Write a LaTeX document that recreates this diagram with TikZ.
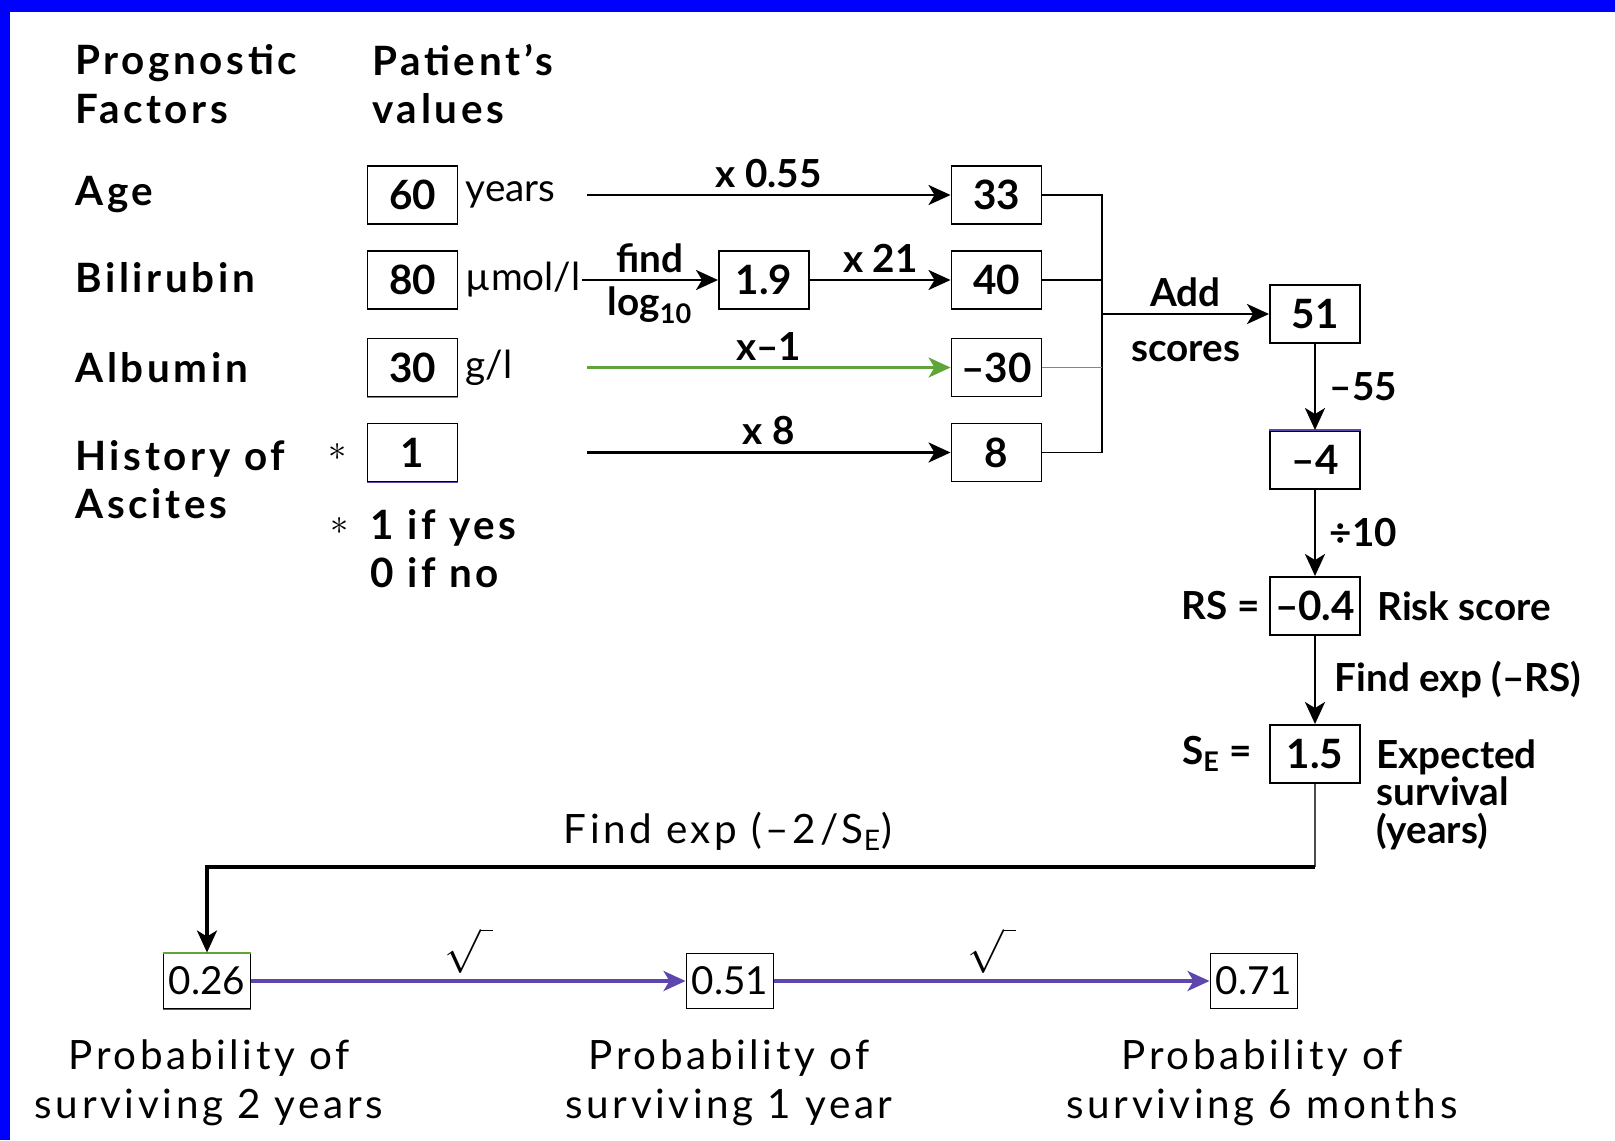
\documentclass[tikz,border=0pt]{standalone}
\usepackage{fontspec}
\setmainfont{Lato}
\newfontfamily\trackfont[LetterSpace=9]{Lato}
\usepackage{tikz}
\usetikzlibrary{arrows.meta, positioning}

\definecolor{frameblue}{RGB}{0,0,255}
\definecolor{albgreen}{RGB}{95,165,55}
\definecolor{probviolet}{RGB}{95,70,175}

\tikzset{
	valbox/.style = {draw, line width=1.1pt, minimum width=1.8cm, minimum height=1.16cm, inner sep=0pt, font=\fontsize{23}{27}\selectfont\bfseries},
	probbox/.style = {draw, line width=1.1pt, minimum width=1.74cm, minimum height=1.1cm, inner sep=0pt, font=\fontsize{22}{26}\selectfont},
	headtxt/.style = {inner sep=0pt, align=left, font=\fontsize{23}{27.5}\selectfont\trackfont\bfseries},
	unittxt/.style = {inner sep=0pt, font=\fontsize{22}{24}\selectfont},
	lbltxt/.style = {font=\fontsize{22}{26}\selectfont\bfseries},
	sidetxt/.style = {inner sep=0pt, align=left, font=\fontsize{22}{21.3}\selectfont\bfseries},
	probtxt/.style = {inner sep=0pt, align=center, font=\fontsize{23}{28}\selectfont\trackfont},
	startxt/.style = {inner sep=0pt, font=\fontsize{21}{24}\selectfont},
}

\begin{document}
\begin{tikzpicture}[> = {Stealth[length=0.44cm, width=0.4cm, inset=0.12cm]}, line width=1.6pt]
	\useasboundingbox (0,0) rectangle (32.3,-22.8);
	\fill [frameblue] (0,0) rectangle (32.3,-0.24);
	\fill [frameblue] (0,0) rectangle (0.2,-22.8);
	
	\node [headtxt, anchor=west] (hfac) at (1.48,-1.68) {Prognostic\\Factors};
	\node [headtxt, anchor=west] (hval) at (7.42,-1.68) {Patient’s\\values};
	
	\node [headtxt, anchor=west] (fage) at (1.48,-3.9) {Age};
	\node [headtxt, anchor=west] (fbil) at (1.48,-5.56) {Bilirubin};
	\node [headtxt, anchor=west] (falb) at (1.48,-7.36) {Albumin};
	\node [headtxt, anchor=west] (fasc) at (1.48,-9.59) {History of\\Ascites};
	
	\node [valbox] (vage) at (8.25,-3.9) {60};
	\node [valbox] (vbil) at (8.25,-5.6) {80};
	\node [valbox] (valb) at (8.25,-7.35) {30};
	\node [valbox] (vasc) at (8.25,-9.05) {1};
	\draw [albgreen, line width=1.1pt] (valb.south west) -- (valb.south east);
	\draw [probviolet, line width=1.1pt] (vasc.south west) -- (vasc.south east);
	
	\node [unittxt, right=0.12cm of vage] (uage) {years};
	\node [unittxt, right=0.12cm of vbil] (ubil) {µmol/l};
	\node [unittxt, right=0.12cm of valb] (ualb) {g/l};
	
	\node [startxt, left=0.36cm of vasc] (star1) {$\ast$};
	\node [headtxt, anchor=west] (note) at (7.38,-10.98) {1 if yes\\0 if no};
	\node [startxt] (star2) at (6.8,-10.52) {$\ast$};
	
	\coordinate (st1) at (11.74,-3.9);
	\coordinate (st3) at (11.74,-7.35);
	\coordinate (st4) at (11.74,-9.05);
	
	\node [valbox] (vlog) at (15.28,-5.6) {1.9};
	\node [valbox] (s33) at (19.93,-3.9) {33};
	\node [valbox] (s40) at (19.93,-5.6) {40};
	\node [valbox] (s30) at (19.93,-7.35) {--30};
	\node [valbox] (s8) at (19.93,-9.05) {8};
	
	\draw [->] (st1) -- (s33) node [lbltxt, midway, above] {x 0.55};
	\draw [->] (ubil) -- (vlog) node [lbltxt, midway, above] {find} node [lbltxt, midway, below] {log\textsubscript{10}};
	\draw [->] (vlog) -- (s40) node [lbltxt, midway, above] {x 21};
	\draw [->, albgreen] (st3) -- (s30) node [lbltxt, midway, above, black] {x--1};
	\draw [->] (st4) -- (s8) node [lbltxt, midway, above] {x 8};
	
	\coordinate (bus1) at (22.04,-3.9);
	\coordinate (bus4) at (22.04,-9.05);
	\coordinate (busm) at (22.04,-6.28);
	\draw [line width=1.1pt] (s33) -- (bus1) -- (bus4) -- (s8);
	\draw [line width=1.1pt] (s40) -- (s40 -| bus1);
	\draw [line width=1.1pt, albgreen] (s30) -- (s30 -| bus1);
	
	\node [valbox] (sum) at (26.3,-6.28) {51};
	\draw [->] (busm) -- (sum) node [lbltxt, midway, above] {Add} node [lbltxt, midway, below=0.4cm] {scores};
	
	\node [valbox] (m4) at (26.3,-9.2) {--4};
	\node [valbox] (rs) at (26.3,-12.12) {--0.4};
	\node [valbox] (se) at (26.3,-15.08) {1.5};
	\draw [probviolet, line width=1.1pt] (m4.north west) -- (m4.north east);
	
	\draw [->] (sum) -- (m4) node [lbltxt, midway, right=0.15cm] {--55};
	\draw [->] (m4) -- (rs) node [lbltxt, midway, right=0.15cm] {÷10};
	\draw [->] (rs) -- (se) node [lbltxt, midway, right=0.25cm] {Find exp (--RS)};
	
	\node [sidetxt, left=0.16cm of rs] (rslbl) {RS =};
	\node [sidetxt, right=0.3cm of rs] (rsname) {Risk score};
	\node [sidetxt, left=0.32cm of se] (selbl) {S\textsubscript{E} =};
	\node [sidetxt, anchor=west] (sename) at (27.5,-15.89) {Expected\\survival\\(years)};
	
	\node [probbox] (p2) at (4.14,-19.62) {0.26};
	\node [probbox] (p1) at (14.6,-19.62) {0.51};
	\node [probbox] (p6) at (25.08,-19.62) {0.71};
	\draw [albgreen, line width=1.1pt] (p2.north west) -- (p2.north east);
	\draw [probviolet, line width=1.1pt] (p2.south west) -- (p2.south east);
	
	\coordinate (turn) at (4.14,-17.34);
	\draw [line width=0.9pt, black!70] (se) -- (se |- turn);
	\draw [->, line width=1.8pt] (se |- turn) -- (turn) node [probtxt, pos=0.53, above=0.3cm] {Find exp (–2/S\textsubscript{E})} -- (p2);
	
	\draw [->, probviolet, line width=2pt] (p2) -- (p1) node [midway, above, black, font=\fontsize{26}{28}\selectfont] {$\sqrt{\;}$};
	\draw [->, probviolet, line width=2pt] (p1) -- (p6) node [midway, above, black, font=\fontsize{26}{28}\selectfont] {$\sqrt{\;}$};
	
	\node [probtxt] (l2) at (4.18,-21.65) {Probability of\\surviving 2 years};
	\node [probtxt] (l1) at (14.58,-21.65) {Probability of\\surviving 1 year};
	\node [probtxt] (l6) at (25.24,-21.65) {Probability of\\surviving 6 months};
\end{tikzpicture}
\end{document}
